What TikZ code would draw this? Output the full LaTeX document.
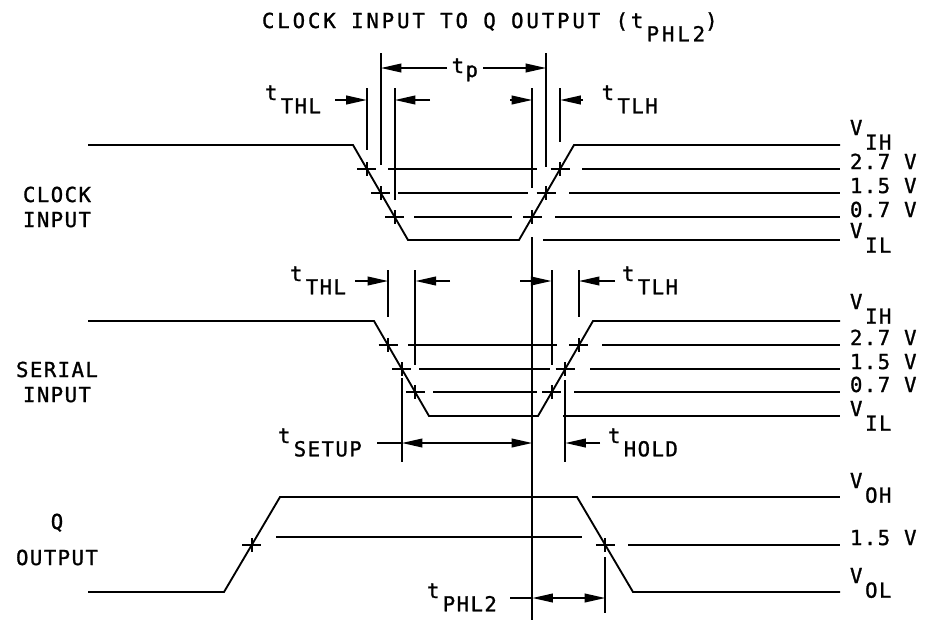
\documentclass[tikz,border=0pt]{standalone}
\usepackage{fontspec}
\usetikzlibrary{arrows.meta}
\newfontfamily\dmono[LetterSpace=7,FakeBold=1.2]{DejaVu Sans Mono}
\newfontfamily\dmonow[LetterSpace=14,FakeBold=1.2]{DejaVu Sans Mono}
\newcommand\tsb[1]{t\kern2.5pt\lower10pt\hbox{#1}}
\newcommand\vsb[1]{V\kern2pt\lower11pt\hbox{#1}}
\newcommand\crs[2]{\draw (#1,#2) ++(-9.5,0) -- ++(19,0) (#1,#2) ++(0,-7) -- ++(0,14);}
\begin{document}
\begin{tikzpicture}[x=0.75pt,y=-0.75pt, line width=1.4pt,
  lbl/.style={font=\dmono\fontsize{15.5}{18}\selectfont, inner sep=0pt, outer sep=0pt, anchor=base west},
  ctr/.style={lbl, anchor=base},
  arr/.style={-{Triangle[length=15.5pt,width=6.5pt]}},
  darr/.style={{Triangle[length=15.5pt,width=6.5pt]}-{Triangle[length=15.5pt,width=6.5pt]}}]
\fill[white] (0,0) rectangle (928,622);
\useasboundingbox (0,0) rectangle (928,622);

% title
\node[lbl, font=\dmonow\fontsize{15.5}{18}\selectfont] (title) at (262,28) {CLOCK INPUT TO Q OUTPUT (\tsb{PHL2})};

% ---------- clock input ----------
\node[ctr] (clk1) at (57,202) {CLOCK};
\node[ctr] (clk2) at (57,227) {INPUT};
\draw (88,145) -- (353,145) -- (408,240) -- (519,240) -- (574,145) -- (840,145);
\crs{366.9}{169} \crs{380.8}{193} \crs{394.7}{217}
\crs{532.3}{217} \crs{546.2}{193} \crs{560.1}{169}
\draw (388,169) -- (537,169) (582,169) -- (840,169);
\draw (398,193) -- (528,193) (569,193) -- (840,193);
\draw (414,217) -- (512,217) (555,217) -- (840,217);
\draw (543,240) -- (840,240);
\draw (366.9,88) -- (366.9,150);
\draw (380.8,53) -- (380.8,165);
\draw (394.7,88) -- (394.7,200);
\draw (532.3,88) -- (532.3,188);
\draw (546.2,53) -- (546.2,167);
\draw (560.1,88) -- (560.1,142);
\draw[arr] (335,100) -- (366.9,100);
\draw[arr] (430,100) -- (394.7,100);
\draw[arr] (510,100) -- (532.3,100);
\draw[arr] (583,100) -- (560.1,100);
\draw[arr] (447,68) -- (380.8,68);
\draw[arr] (483,68) -- (546.2,68);
\node[lbl] (tp) at (451.7,73) {t\kern1pt\lower3pt\hbox{p}};
\node[lbl] (cthl) at (265,100) {\tsb{THL}};
\node[lbl] (ctlh) at (601.7,100) {\tsb{TLH}};
\node[lbl] (cvih) at (850,135) {\vsb{IH}};
\node[lbl] (c27) at (850,169) {2.7 V};
\node[lbl] (c15) at (850,193) {1.5 V};
\node[lbl] (c07) at (850,217) {0.7 V};
\node[lbl] (cvil) at (850,238) {\vsb{IL}};

% ---------- serial input ----------
\node[ctr] (ser1) at (57,377) {SERIAL};
\node[ctr] (ser2) at (57,402) {INPUT};
\draw (88,321) -- (374,321) -- (429,416) -- (538,416) -- (593,321) -- (840,321);
\crs{388.2}{345} \crs{401.8}{369} \crs{415.4}{392}
\crs{551.6}{392} \crs{565.2}{369} \crs{578.8}{345}
\draw (408,345) -- (557,345) (602,345) -- (840,345);
\draw (419,369) -- (550,369) (590,369) -- (840,369);
\draw (433,392) -- (537,392) (574,392) -- (840,392);
\draw (563,416) -- (840,416);
\draw (388.2,270) -- (388.2,317);
\draw (415.4,270) -- (415.4,365);
\draw (401.8,378) -- (401.8,462);
\draw (551.6,270) -- (551.6,365);
\draw (578.8,270) -- (578.8,317);
\draw (565.2,380) -- (565.2,462);
\draw[arr] (355,281) -- (388.2,281);
\draw[arr] (450,281) -- (415.4,281);
\draw[arr] (520,281) -- (551.6,281);
\draw[arr] (615,281) -- (578.8,281);
\draw (377,443) -- (401.8,443);
\draw[darr] (401.8,443) -- (532.3,443);
\draw[arr] (600,443) -- (565.2,443);
\node[lbl] (sthl) at (290,281) {\tsb{THL}};
\node[lbl] (stlh) at (622,281) {\tsb{TLH}};
\node[lbl] (setup) at (278,443) {\tsb{SETUP}};
\node[lbl] (hold) at (608,443) {\tsb{HOLD}};
\node[lbl] (svih) at (850,309) {\vsb{IH}};
\node[lbl] (s27) at (850,345) {2.7 V};
\node[lbl] (s15) at (850,369) {1.5 V};
\node[lbl] (s07) at (850,392) {0.7 V};
\node[lbl] (svil) at (850,416) {\vsb{IL}};

% ---------- Q output ----------
\node[ctr] (q1) at (57,529) {Q};
\node[ctr] (q2) at (57,565) {OUTPUT};
\draw (88,592) -- (224,592) -- (280,497) -- (577,497) -- (633,592) -- (840,592);
\crs{251.7}{545} \crs{605.3}{545}
\draw (276,537) -- (582,537);
\draw (628,545) -- (840,545);
\draw (592,497) -- (840,497);
\draw (605.3,557) -- (605.3,613);
\draw (510,598) -- (532.3,598);
\draw[darr] (532.3,598) -- (605.3,598);
\node[lbl] (phl) at (427,598) {\tsb{PHL2}};
\node[lbl] (voh) at (850,488) {\vsb{OH}};
\node[lbl] (q15) at (850,545) {1.5 V};
\node[lbl] (vol) at (850,583) {\vsb{OL}};

% long reference line
\draw (532.3,237) -- (532.3,620);
\end{tikzpicture}
\end{document}
